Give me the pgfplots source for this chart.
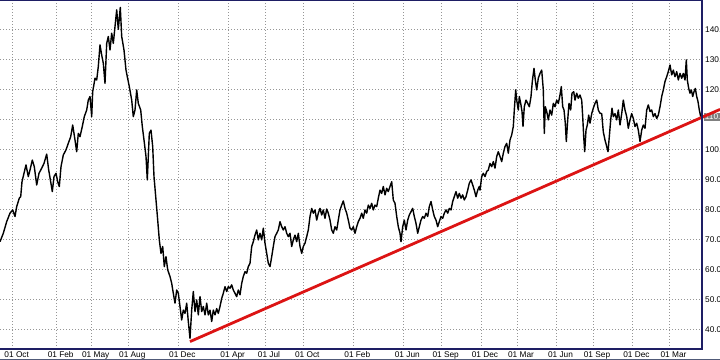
\documentclass[border=0pt]{standalone}
\usepackage{fontspec}
\setmainfont{Liberation Sans}
\usepackage{pgfplots}
\pgfplotsset{compat=1.18}
\definecolor{navy}{RGB}{30,30,100}
\definecolor{trend}{RGB}{220,20,20}
\definecolor{gridc}{RGB}{150,150,150}
\definecolor{pricebox}{RGB}{128,128,128}
\definecolor{strip}{RGB}{80,90,120}
\newcommand{\tickfont}{\fontsize{8.3bp}{9.5bp}\selectfont}
\begin{document}
\begin{tikzpicture}
\useasboundingbox (0,-11bp) rectangle (720bp,349bp);
\clip (0,-11bp) rectangle (720bp,349bp);
\begin{axis}[
  at={(0,0)}, anchor=south west,
  scale only axis, width=702bp, height=349bp,
  xmin=0, xmax=702, ymin=33.43, ymax=149.77,
  clip=false,
  axis line style={draw=none},
  xtick={12.7,56.7,91.7,128.3,178.3,228.7,265,303.3,353.3,403.3,441.7,481,517,556.5,593,632.5,669.5},
  xticklabels={01 Oct,01 Feb,01 May,01 Aug,01 Dec,01 Apr,01 Jul,01 Oct,01 Feb,01 Jun,01 Sep,01 Dec,01 Mar,01 Jun,01 Sep,01 Dec,01 Mar},
  ytick={40,50,60,70,80,90,100,110,120,130,140},
  yticklabels={40.00,50.00,60.00,70.00,80.00,90.00,100.00,{},120.00,130.00,140.00},
  yticklabel pos=right,
  major tick length=0pt,
  tick style={draw=none},
  grid=major,
  major grid style={gridc, dash pattern=on 1bp off 2bp, line width=0.8bp},
  xticklabel style={font=\tickfont, anchor=north, inner sep=0pt, yshift=-2.3bp, xshift=4bp},
  yticklabel style={font=\tickfont, anchor=west, inner sep=0pt, xshift=3bp},
]
\addplot[black, line width=1.4bp, line join=round, mark=none] coordinates {
(0,69.2) (3.3,72) (6.7,75.9) (10,78.7) (12.7,79.8) (15,77.6) (16.7,80.9) (19.3,83.7) (20.7,84.2) (22,89.2)
(24,92) (26,94.8) (28.3,90.9) (30,93.1) (32.3,96.4) (34.3,94.2) (36.7,88.1) (39,92) (41.7,93.7) (44,95.3)
(46.7,98.4) (48.7,93.1) (50.7,89.2) (52.3,85.9) (54,90.9) (56,92) (57.7,89.2) (59.3,87.6) (61,94.2) (63.3,98.1)
(66,99.8) (68.3,102) (70.7,104.2) (72.7,108.1) (75,103.1) (76.7,99.2) (78.3,105.3) (80,104.2) (82.3,107.6) (84.3,110.9)
(86.7,113.1) (88.3,116.4) (90,117.6) (91.7,110.9) (92.7,119.2) (95,123.7) (96.7,123.1) (98.3,127.6) (100,134.8) (101.7,131.4)
(103.3,128.7) (105,122) (106.7,135.3) (108.3,137.6) (110,133.1) (111.7,138.7) (113.3,135.3) (115,140.9) (116.7,146.5) (118.3,140)
(120.3,147.3) (121.7,137.6) (124,133.1) (126,126.4) (127.3,124.2) (129.3,120.9) (131.7,116.4) (133.3,110.9) (135,113.1) (136.7,119.8)
(138.3,115.3) (140.7,113.1) (142.3,107.6) (144,103.1) (146,97.6) (147.3,89.8) (149.3,105.3) (151,106.4) (152.7,100.9) (154,90.9)
(156,83.1) (157.7,76.4) (159.3,69.8) (161,65.3) (162.7,67.6) (164.3,60.9) (166,64.2) (167.7,59.8) (170,57.6) (171.7,55.3)
(173.3,52) (175,48.7) (176.7,53.1) (178.3,52) (180,47.6) (181.7,43.1) (183.3,46.4) (185,45.3) (186.7,48.7) (188.3,42.6)
(190,37) (191.7,46.4) (193.3,52.6) (195,45.9) (196.7,49.8) (198.3,44.8) (200,50.9) (201.7,45.9) (203.3,47.6) (205,44.8)
(206.7,48.7) (208.3,44.8) (210,46.4) (211.7,42.6) (213.3,46.4) (215,44.8) (216.7,46.9) (218.3,45.3) (220,47.6) (221.7,50.3)
(223.3,52) (225,54.2) (226.7,52.6) (228.3,54.2) (230,53.7) (231.7,54.8) (233.3,53.1) (235,52) (236.7,50.9) (238.3,53.1)
(240,51.5) (241.7,55.3) (243.3,57.6) (245,59.2) (246.7,58.7) (248.3,60.9) (250,62) (251.7,67.6) (253.3,69.2) (255,71.4)
(256.7,73.1) (258.3,69.8) (260,72) (261.7,69.8) (263.3,73.7) (265,68.7) (266.7,65.3) (268.3,62) (270,60.9) (271.7,64.2)
(273.3,67.6) (275,70.9) (276.7,72) (278.3,73.1) (280,75.9) (281.7,74.2) (283.3,73.1) (285,74.2) (286.7,72) (288.3,70.9)
(290,72) (291.7,67.6) (293.3,69.8) (295,71.4) (296.7,69.2) (298.3,72) (300,67.6) (301.7,65.3) (303.3,67.6) (305,68.7)
(306.7,70.9) (308.3,73.1) (310,77.6) (311.7,80.3) (313.3,78.7) (315,79.8) (316.7,76.4) (318.3,78.7) (320,80.3) (321.7,78.1)
(323.3,79.8) (325,77) (326.7,80.1) (328.3,78.7) (330,76.4) (331.7,73.1) (333.3,72) (335,74.2) (336.7,73.1) (338.3,76.4)
(340,79.8) (341.7,81.4) (343.3,82.8) (345,80.3) (346.7,78.7) (348.3,76.4) (350,73.7) (351.7,73.1) (353.3,74.2) (355,72)
(356.7,74.2) (358.3,75.9) (360,77) (361.7,78.7) (363.3,77) (365,79.8) (366.7,78.7) (368.3,81.4) (370,80.3) (371.7,82)
(373.3,79.8) (375,81.4) (376.7,80.9) (378.3,83.7) (380,86.4) (381.7,85.3) (383.3,87.6) (385,84.8) (386.7,87) (388.3,85.9)
(390,87.6) (391.7,89.2) (393.3,83.1) (395,82) (396.7,77.6) (398.3,74.2) (400,72) (401,69.2) (402.7,74.2) (404.3,76.4)
(406,73.1) (407.7,76.4) (409.3,78.1) (411,79.2) (412.7,80.3) (414.3,77.6) (416,75.3) (417.7,72) (419.3,74.2) (421,76.4)
(422.7,77.6) (424.3,77) (426,78.7) (427.7,77.6) (429.3,80.9) (431,82.6) (432.7,79.8) (434.3,77.6) (436,76.4) (437.7,74.2)
(439.3,75.9) (441,77.6) (442.7,77) (444.3,78.7) (446,79.8) (447.7,78.7) (449.3,80.3) (451,79.8) (452.7,82.6) (454.3,84.2)
(456,85.9) (457.7,83.7) (459.3,85.3) (461,83.7) (462.7,84.8) (464.3,83.1) (466,84.2) (467.7,86.4) (469.3,88.7) (471,89.8)
(472.7,88.1) (474.3,86.4) (476,84.2) (477.7,86.4) (479.3,87.6) (480,86.4) (481.7,90.9) (483.3,92) (485,90.9) (486.7,92.6)
(488.3,93.1) (490,95.3) (491.7,94.2) (493.3,95.9) (495,93.7) (496.7,97.6) (498.3,99.2) (500,97.6) (501.7,95.9) (503.3,98.7)
(505,100.9) (506.7,102) (508.3,98.7) (510,103.1) (511.7,104.8) (513.3,107.6) (514.3,113.1) (515.7,119.8) (516.7,116.4) (518.3,113.1)
(519.3,117.6) (520.7,115.3) (522,112.6) (523,107.6) (524.3,114.2) (526,116.4) (527.7,115.3) (529.3,114.2) (531,117.6) (532.3,122.6)
(534,127) (535.3,123.1) (536.7,119.8) (538.3,123.7) (540,125.3) (541.7,126.4) (543.3,119.8) (544.3,105.3) (545.3,114.2) (546.7,112.6)
(548.3,109.8) (550,113.1) (551.7,111.4) (553.3,115.3) (555,114.2) (556.7,116.4) (558.3,115.3) (560,118.1) (561.3,120.9) (562.7,114.2)
(564,113.1) (565.3,108.7) (566.3,102.6) (567.7,109.8) (569,115.3) (570.7,113.1) (572,118.7) (573.7,119.2) (575,116.4) (576.7,118.7)
(578.3,117) (580,118.1) (581.7,116.4) (582.7,110.9) (583.7,104.2) (584.7,99.2) (586,106.4) (587.3,108.1) (588.7,111.4) (590,108.7)
(591.7,111.9) (593.3,113.7) (595,115.3) (596.7,116.4) (598.3,113.1) (600,112) (601.7,111.9) (603.3,105.8) (605,103.1) (606.7,100.9)
(608,99.2) (609.3,104.2) (610.7,109.8) (612,113.7) (613.3,110.9) (615,111.9) (616.7,109.8) (618.3,113.1) (620,108.1) (621.7,111.9)
(623.3,116.4) (625,113.1) (626.7,110.9) (628.3,107) (630,109.8) (631.7,111.9) (633.3,110.3) (635,107.6) (636.7,108.7) (638.3,106.4)
(640,102.6) (641.7,106.4) (643.3,108.1) (645,107) (646.7,113.1) (648.3,114.8) (650,112.6) (651.7,113.1) (653.3,110.9) (655,111.9)
(656.7,110.3) (658.3,111.4) (660,114.2) (661.7,117.6) (663.3,119.8) (665,122.6) (666.7,124.2) (668.3,125.9) (670,128.1) (671.7,124.8)
(673.3,126.4) (675,124.2) (676.7,125.9) (678.3,123.1) (680,125.3) (681.7,123.7) (683.3,125.3) (685,123.1) (686.3,129.8) (687.3,123.1)
(688.7,120.3) (690,118.7) (691.3,119.8) (692.7,117.6) (694,119.2) (695.3,120.3) (696.7,117.6) (698,115.9) (699.3,113.1) (700.7,110.9)
(702,111.9)
};
\node[fill=pricebox, text=white, inner sep=1.2bp, anchor=west, font=\tickfont] at (axis cs:703.5,110.8) {110.46};
\addplot[trend, line width=2.8bp, mark=none] coordinates {(190,35.9) (720,113.3)};
\draw[navy, line width=2.4bp] (rel axis cs:0,0) -- (rel axis cs:1,0) -- (rel axis cs:1,1) -- (rel axis cs:0,1);
\end{axis}
\draw[strip, line width=2bp] (0,-11bp) -- (720bp,-11bp);
\end{tikzpicture}
\end{document}
